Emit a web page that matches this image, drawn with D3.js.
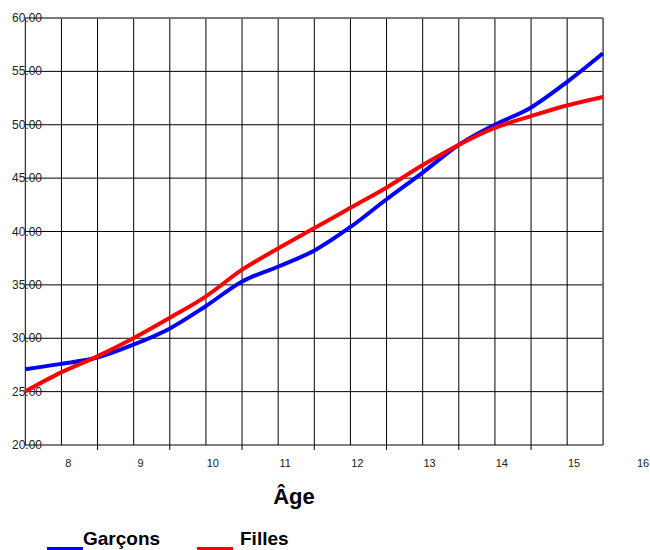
<!DOCTYPE html>
<html>
<head>
<meta charset="utf-8">
<script src="https://cdn.jsdelivr.net/npm/d3@7"></script>
<style>
  html, body { margin: 0; padding: 0; background: #fff; }
  svg { display: block; font-family: "Liberation Sans", Arial, sans-serif; }
</style>
</head>
<body>
<svg id="chart" width="650" height="550"></svg>
<script>
// ---- data ----
const ages = [7.4, 7.9, 8.4, 8.9, 9.4, 9.9, 10.4, 10.9, 11.4, 11.9, 12.4, 12.9, 13.4, 13.9, 14.4, 14.9, 15.4];
const garcons = [27.1, 27.6, 28.2, 29.4, 30.9, 33.0, 35.3, 36.7, 38.2, 40.4, 43.0, 45.5, 48.1, 50.0, 51.6, 54.0, 56.7];
const filles  = [25.0, 26.8, 28.3, 30.0, 31.9, 33.9, 36.4, 38.4, 40.3, 42.2, 44.1, 46.2, 48.1, 49.7, 50.8, 51.8, 52.6];
const xTickLabels = [8, 9, 10, 11, 12, 13, 14, 15, 16];
const yTicks = [20, 25, 30, 35, 40, 45, 50, 55, 60];
const seriesNames = ["Garçons", "Filles"];
const seriesColors = ["#0000ff", "#ff0000"];
const axisTitle = "Âge";

// ---- layout ----
const svg = d3.select("#chart");
const W = 650;
const mLeft = 25, mRight = 603, mTop = 18, mBottom = 445;

const x = d3.scaleLinear().domain([ages[0], ages[ages.length - 1]]).range([mLeft, mRight]);
const y = d3.scaleLinear().domain([20, 60]).range([mBottom, mTop]);

// vertical grid lines (one per data position)
svg.append("g").selectAll("line").data(ages).join("line")
  .attr("x1", d => x(d) + 0.3).attr("x2", d => x(d) + 0.3)
  .attr("y1", mTop).attr("y2", mBottom)
  .attr("stroke", "#000").attr("stroke-width", 1);

// small ticks below x axis at every other grid line
svg.append("g").selectAll("line").data(ages.filter((d, i) => i % 2 === 0 && i > 0 && i < ages.length - 1)).join("line")
  .attr("x1", d => x(d) + 0.3).attr("x2", d => x(d) + 0.3)
  .attr("y1", mBottom).attr("y2", mBottom + 5)
  .attr("stroke", "#000").attr("stroke-width", 1);

// horizontal grid lines
svg.append("g").selectAll("line").data(yTicks).join("line")
  .attr("x1", mLeft).attr("x2", mRight)
  .attr("y1", d => y(d)).attr("y2", d => y(d))
  .attr("stroke", "#000").attr("stroke-width", 1);

// border in gray
svg.append("line").attr("x1", mRight).attr("x2", mRight).attr("y1", mTop).attr("y2", mBottom)
  .attr("stroke", "#777").attr("stroke-width", 1.5);
svg.append("line").attr("x1", mLeft).attr("x2", mRight).attr("y1", mTop).attr("y2", mTop)
  .attr("stroke", "#777").attr("stroke-width", 1.5);

// y labels
svg.append("g").selectAll("text").data(yTicks).join("text")
  .attr("x", 42).attr("y", d => y(d) + 4)
  .attr("text-anchor", "end")
  .attr("font-size", 12).attr("fill", "#222")
  .text(d => d.toFixed(2));

// x labels (last one kept inside the page)
svg.append("g").selectAll("text").data(xTickLabels).join("text")
  .attr("x", d => Math.min(x(d), W - 7)).attr("y", 467)
  .attr("text-anchor", "middle")
  .attr("font-size", 11).attr("fill", "#222")
  .text(d => d);

// lines
const line = d3.line().x((d, i) => x(ages[i])).y(d => y(d)).curve(d3.curveMonotoneX);
[garcons, filles].forEach((s, i) => {
  svg.append("path").datum(s)
    .attr("fill", "none")
    .attr("stroke", seriesColors[i])
    .attr("stroke-width", 4)
    .attr("stroke-linejoin", "round")
    .attr("d", line);
});

// axis title
svg.append("text").attr("x", 294).attr("y", 504)
  .attr("text-anchor", "middle").attr("font-size", 22).attr("font-weight", "bold")
  .attr("fill", "#000").text(axisTitle);

// legend
const legendX = [47, 197];
seriesNames.forEach((n, i) => {
  svg.append("line").attr("x1", legendX[i]).attr("x2", legendX[i] + 36)
    .attr("y1", 548.5).attr("y2", 548.5)
    .attr("stroke", seriesColors[i]).attr("stroke-width", 3);
  svg.append("text").attr("x", legendX[i] + 36 + (i === 0 ? 0 : 7)).attr("y", 545)
    .attr("font-size", 19).attr("font-weight", "bold").attr("fill", "#000")
    .text(n);
});
</script>
</body>
</html>
